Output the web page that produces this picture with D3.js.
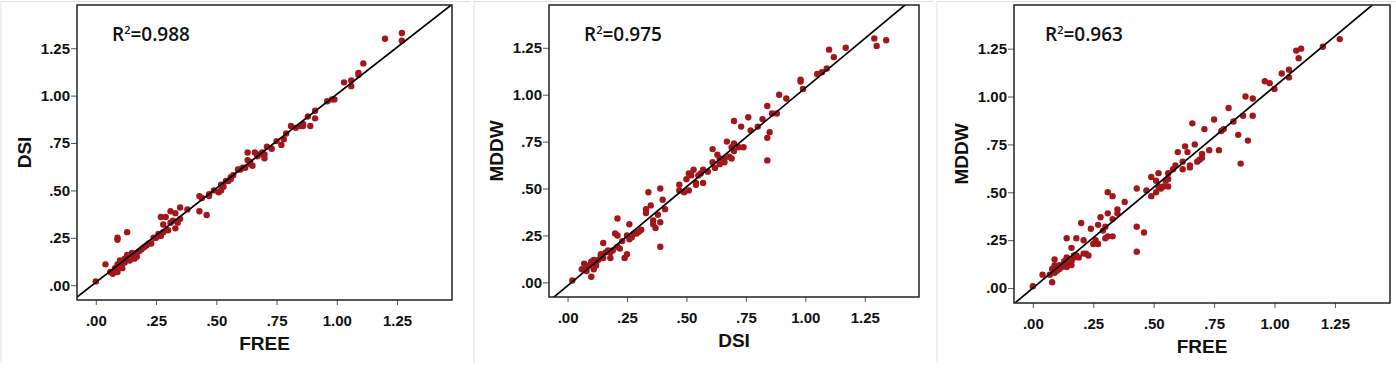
<!DOCTYPE html>
<html>
<head>
<meta charset="utf-8">
<script src="https://cdn.jsdelivr.net/npm/d3@7"></script>
<style>
  body { margin: 0; background: #fff; }
  svg { display: block; }
</style>
</head>
<body>
<div id="chart"></div>
<script>
// tick values shared by every axis
const tickValues = [0, 0.25, 0.5, 0.75, 1, 1.25];
const domain = [-0.078, 1.478];

// panel 1: FREE (x) vs DSI (y)
const freeDsi = [
  [1.20,1.30],[1.27,1.33],[1.27,1.29],[1.11,1.17],[1.09,1.12],[1.09,1.11],[1.06,1.08],[1.06,1.05],
  [1.03,1.07],[0.99,0.98],[0.98,0.98],[0.96,0.97],[0.91,0.92],[0.91,0.88],[0.88,0.89],[0.89,0.84],
  [0.86,0.85],[0.85,0.84],[0.86,0.84],[0.81,0.84],[0.83,0.83],[0.79,0.80],[0.78,0.77],[0.77,0.74],
  [0.75,0.76],[0.73,0.72],[0.71,0.73],[0.70,0.69],[0.70,0.67],[0.69,0.70],[0.67,0.68],[0.66,0.70],
  [0.63,0.70],[0.63,0.66],[0.64,0.64],[0.65,0.63],[0.62,0.62],[0.61,0.62],[0.59,0.61],[0.56,0.57],
  [0.56,0.56],[0.55,0.55],[0.54,0.55],[0.52,0.53],[0.52,0.50],[0.51,0.49],[0.49,0.50],[0.47,0.48],
  [0.47,0.47],[0.43,0.47],[0.43,0.39],[0.46,0.37],[0.38,0.40],[0.35,0.41],[0.35,0.35],[0.33,0.38],
  [0.31,0.39],[0.29,0.36],[0.27,0.36],[0.28,0.32],[0.31,0.33],[0.30,0.29],[0.33,0.30],[0.28,0.28],
  [0.27,0.26],[0.25,0.25],[0.24,0.25],[0.23,0.22],[0.21,0.21],[0.20,0.20],[0.18,0.18],[0.16,0.15],
  [0.16,0.14],[0.15,0.17],[0.13,0.16],[0.13,0.28],[0.09,0.25],[0.09,0.24],[0.11,0.12],[0.10,0.13],
  [0.09,0.11],[0.08,0.09],[0.07,0.06],[0.04,0.11],[0.00,0.02],[0.11,0.09],[0.13,0.14],[0.14,0.14],
  [0.16,0.16],[0.12,0.12],[0.14,0.13],[0.15,0.15],[0.17,0.17],[0.19,0.19],[0.10,0.10],[0.08,0.08],
  [0.12,0.14],[0.17,0.15],[0.22,0.22],[0.32,0.34],[0.34,0.33],[0.57,0.58],[0.60,0.61],[0.64,0.65],
  [0.68,0.69],[0.53,0.52],[0.26,0.27],[0.44,0.46],[0.09,0.07],[0.06,0.07]
];

// panel 2: DSI (x) vs MDDW (y)
const dsiMddw = [
  [1.29,1.30],[1.30,1.26],[1.34,1.29],[1.17,1.25],[1.10,1.24],[1.12,1.20],[1.09,1.14],[1.07,1.12],
  [1.05,1.11],[0.98,1.08],[0.98,1.07],[0.99,1.03],[0.92,0.98],[0.89,1.00],[0.88,0.90],[0.86,0.90],
  [0.84,0.94],[0.85,0.80],[0.84,0.77],[0.84,0.65],[0.82,0.87],[0.80,0.83],[0.77,0.81],[0.76,0.88],
  [0.73,0.83],[0.70,0.86],[0.74,0.72],[0.72,0.72],[0.70,0.70],[0.70,0.74],[0.67,0.75],[0.69,0.72],
  [0.69,0.66],[0.68,0.67],[0.66,0.66],[0.66,0.64],[0.64,0.66],[0.63,0.68],[0.61,0.64],[0.62,0.61],
  [0.61,0.71],[0.57,0.60],[0.57,0.53],[0.54,0.53],[0.54,0.52],[0.55,0.57],[0.53,0.60],[0.52,0.57],
  [0.51,0.58],[0.50,0.55],[0.51,0.49],[0.49,0.48],[0.47,0.49],[0.47,0.52],[0.39,0.50],[0.34,0.48],
  [0.40,0.44],[0.41,0.39],[0.35,0.41],[0.33,0.37],[0.33,0.39],[0.38,0.36],[0.39,0.32],[0.36,0.33],
  [0.36,0.31],[0.37,0.29],[0.39,0.19],[0.30,0.27],[0.29,0.26],[0.27,0.24],[0.26,0.31],[0.21,0.34],
  [0.20,0.26],[0.21,0.25],[0.25,0.25],[0.26,0.23],[0.25,0.15],[0.24,0.13],[0.22,0.18],[0.21,0.19],
  [0.18,0.13],[0.18,0.16],[0.15,0.21],[0.14,0.14],[0.12,0.10],[0.11,0.12],[0.10,0.03],[0.09,0.09],
  [0.08,0.06],[0.07,0.10],[0.06,0.07],[0.02,0.01],[0.12,0.09],[0.14,0.15],[0.19,0.17],[0.10,0.11],
  [0.13,0.12],[0.16,0.16],[0.08,0.08],[0.11,0.07],[0.15,0.13],[0.17,0.17],[0.28,0.26],[0.59,0.59],
  [0.56,0.58],[0.64,0.63],[0.31,0.28],[0.23,0.22]
];

// panel 3: FREE (x) vs MDDW (y)
const freeMddw = [
  [1.27,1.30],[1.20,1.26],[1.11,1.25],[1.09,1.24],[1.10,1.20],[1.06,1.14],[1.06,1.10],[1.03,1.12],
  [0.98,1.07],[0.96,1.08],[1.00,1.04],[0.88,1.00],[0.91,0.99],[0.91,0.90],[0.87,0.90],[0.83,0.87],
  [0.81,0.94],[0.79,0.83],[0.78,0.82],[0.85,0.80],[0.89,0.77],[0.86,0.65],[0.77,0.72],[0.75,0.88],
  [0.73,0.72],[0.71,0.83],[0.70,0.70],[0.69,0.67],[0.68,0.66],[0.67,0.75],[0.66,0.86],[0.64,0.71],
  [0.65,0.64],[0.65,0.63],[0.63,0.74],[0.62,0.66],[0.62,0.62],[0.60,0.71],[0.59,0.64],[0.56,0.60],
  [0.56,0.57],[0.56,0.53],[0.54,0.53],[0.52,0.60],[0.51,0.56],[0.52,0.53],[0.51,0.50],[0.49,0.58],
  [0.47,0.51],[0.49,0.48],[0.43,0.52],[0.38,0.45],[0.33,0.48],[0.31,0.50],[0.35,0.41],[0.35,0.39],
  [0.31,0.39],[0.33,0.36],[0.30,0.32],[0.28,0.37],[0.27,0.33],[0.24,0.31],[0.31,0.27],[0.33,0.27],
  [0.30,0.26],[0.26,0.25],[0.27,0.23],[0.25,0.23],[0.43,0.32],[0.46,0.29],[0.43,0.19],[0.20,0.34],
  [0.18,0.26],[0.21,0.25],[0.14,0.26],[0.16,0.21],[0.19,0.16],[0.22,0.18],[0.23,0.17],[0.21,0.18],
  [0.17,0.17],[0.16,0.14],[0.16,0.12],[0.14,0.16],[0.11,0.12],[0.13,0.12],[0.09,0.15],[0.09,0.12],
  [0.08,0.03],[0.08,0.10],[0.07,0.07],[0.04,0.07],[0.00,0.01],[0.10,0.11],[0.11,0.10],[0.15,0.13],
  [0.18,0.17],[0.12,0.11],[0.10,0.09],[0.13,0.14],[0.17,0.16],[0.09,0.08],[0.14,0.11],[0.55,0.56],
  [0.58,0.62],[0.53,0.52],[0.70,0.68],[0.29,0.30]
];

// fitted lines: [slope, intercept]
const fits = [[0.992, 0.015], [1.054, -0.018], [1.052, 0.0]];
const r2Labels = ["0.988", "0.975", "0.963"];
const xTitles = ["FREE", "DSI", "FREE"];
const yTitles = ["DSI", "MDDW", "MDDW"];

const panels = [
  { data: freeDsi,  box: { x0: 77,   x1: 452,  y0: 5, y1: 300 }, edge: 1,   r2x: 35 },
  { data: dsiMddw,  box: { x0: 549,  x1: 919,  y0: 5, y1: 297 }, edge: 474, r2x: 35 },
  { data: freeMddw, box: { x0: 1014, x1: 1390, y0: 5, y1: 303 }, edge: 937, r2x: 31 }
];

const width = 1396, height = 368;
const dotColor = "#a3171c";
const fmt = d => d < 1 ? d3.format(".2f")(d).replace(/^0/, "") : d3.format(".2f")(d);

const svg = d3.select("#chart").append("svg")
  .attr("width", width)
  .attr("height", height);

panels.forEach((p, i) => {
  const b = p.box;
  const x = d3.scaleLinear().domain(domain).range([b.x0, b.x1]);
  const y = d3.scaleLinear().domain(domain).range([b.y1, b.y0]);

  // faint panel border (top and left)
  svg.append("line")
    .attr("x1", p.edge).attr("x2", i < 2 ? panels[i + 1].edge - 4 : width)
    .attr("y1", 1.5).attr("y2", 1.5)
    .attr("stroke", "#e2e2e2");
  svg.append("line")
    .attr("x1", p.edge).attr("x2", p.edge)
    .attr("y1", 1.5).attr("y2", 363)
    .attr("stroke", "#e2e2e2");

  const clipId = "clip" + i;
  svg.append("clipPath").attr("id", clipId)
    .append("rect")
      .attr("x", b.x0).attr("y", b.y0)
      .attr("width", b.x1 - b.x0).attr("height", b.y1 - b.y0);

  // axes
  const xAxis = svg.append("g")
    .attr("transform", `translate(0,${b.y1})`)
    .call(d3.axisBottom(x).tickValues(tickValues).tickFormat(fmt).tickSize(5).tickPadding(6));
  const yAxis = svg.append("g")
    .attr("transform", `translate(${b.x0},0)`)
    .call(d3.axisLeft(y).tickValues(tickValues).tickFormat(fmt).tickSize(6).tickPadding(1));

  [xAxis, yAxis].forEach(ax => {
    ax.select(".domain").remove();
    ax.selectAll(".tick line").attr("stroke", "#555");
    ax.selectAll(".tick text")
      .attr("fill", "#111")
      .style("font-family", "'Liberation Sans', Arial, sans-serif")
      .style("font-size", "15px")
      .style("font-weight", "bold");
  });
  xAxis.selectAll(".tick text").attr("dy", "1.0em");

  // points
  svg.append("g")
    .selectAll("circle")
    .data(p.data)
    .join("circle")
      .attr("cx", d => x(d[0]))
      .attr("cy", d => y(d[1]))
      .attr("r", 3.2)
      .attr("fill", dotColor);

  // fit line
  const [m, c] = fits[i];
  svg.append("line")
    .attr("clip-path", `url(#${clipId})`)
    .attr("x1", x(domain[0])).attr("y1", y(m * domain[0] + c))
    .attr("x2", x(domain[1] + 0.2)).attr("y2", y(m * (domain[1] + 0.2) + c))
    .attr("stroke", "#000")
    .attr("stroke-width", 1.7);

  // frame
  svg.append("rect")
    .attr("x", b.x0).attr("y", b.y0)
    .attr("width", b.x1 - b.x0).attr("height", b.y1 - b.y0)
    .attr("fill", "none")
    .attr("stroke", "#222")
    .attr("stroke-width", 1.5);

  // R² label
  const r2 = svg.append("text")
    .attr("x", b.x0 + p.r2x)
    .attr("y", 40.5)
    .attr("fill", "#111")
    .style("font-family", "'Open Sans', sans-serif")
    .style("font-size", "19px")
    .style("font-weight", 600);
  r2.append("tspan").text("R");
  r2.append("tspan").attr("dy", -7).style("font-size", "11px").text("2");
  r2.append("tspan").attr("dy", 7).text("=" + r2Labels[i]);

  // axis titles
  svg.append("text")
    .attr("x", (b.x0 + b.x1) / 2)
    .attr("y", b.y1 + 50)
    .attr("text-anchor", "middle")
    .attr("fill", "#111")
    .style("font-family", "'Liberation Sans', Arial, sans-serif")
    .style("font-size", "19px")
    .style("font-weight", "bold")
    .text(xTitles[i]);

  svg.append("text")
    .attr("transform", `translate(${b.x0 - 46},${(b.y0 + b.y1) / 2}) rotate(-90)`)
    .attr("text-anchor", "middle")
    .attr("fill", "#111")
    .style("font-family", "'Liberation Sans', Arial, sans-serif")
    .style("font-size", "19px")
    .style("font-weight", "bold")
    .text(yTitles[i]);
});
</script>
</body>
</html>
